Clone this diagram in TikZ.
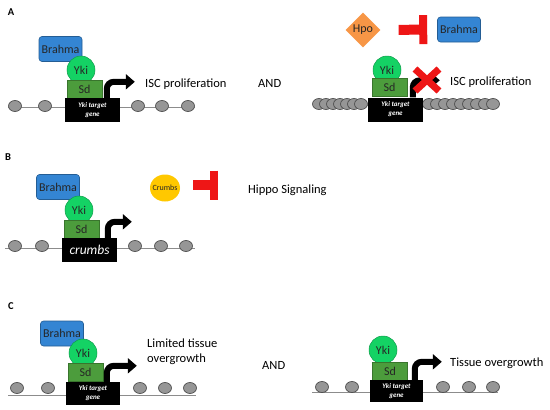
\documentclass[tikz,border=0pt]{standalone}
\usepackage{fontspec}
\setmainfont{Carlito}
\usetikzlibrary{arrows.meta,shapes.geometric}

\definecolor{brahmablue}{RGB}{52,133,211}
\definecolor{ykigreen}{RGB}{20,210,100}
\definecolor{sdgreen}{RGB}{76,156,60}
\definecolor{hpoorange}{RGB}{247,150,70}
\definecolor{blockred}{RGB}{238,22,22}
\definecolor{crumbyellow}{RGB}{255,200,0}
\definecolor{nucgray}{RGB}{150,150,150}

\tikzset{
  lbl/.style={font=\fontsize{12.5}{15}\selectfont, inner sep=0pt, anchor=base west, align=left},
  panel/.style={font=\fontsize{10.5}{12}\selectfont\bfseries, inner sep=0pt},
  dna/.style={draw=black!45, line width=0.8},
  nucleo/.style={ellipse, fill=nucgray, draw=black!70, line width=0.7, minimum width=13, minimum height=11, inner sep=0pt},
  brahma/.style={rectangle, rounded corners=3, fill=brahmablue, draw=brahmablue!70!black, line width=0.6,
    minimum width=43, minimum height=25, inner sep=0pt, font=\fontsize{12}{14}\selectfont, text=black!85},
  yki/.style={circle, fill=ykigreen, draw=ykigreen!75!black, line width=0.5, minimum size=28, inner sep=0pt,
    font=\fontsize{12}{14}\selectfont, text=black!85},
  sd/.style={rectangle, fill=sdgreen, draw=sdgreen!75!black, line width=0.5, minimum width=35, minimum height=18,
    inner sep=0pt, font=\fontsize{12}{14}\selectfont, text=black!85},
  gene/.style={rectangle, fill=black, text=white, minimum width=55, minimum height=24, inner sep=0pt, align=center,
    font=\fontsize{7}{9}\selectfont\bfseries\itshape},
  expr/.style={line width=6, rounded corners=7, -{Triangle[length=9pt,width=15pt]}},
  inhibit/.style={blockred, line width=10, -{Bar[width=29pt,line width=8pt]}}
}

\begin{document}
\begin{tikzpicture}[x=1pt,y=-1pt]
\useasboundingbox (0,0) rectangle (550,410);

% panel A
\node[panel] (labA) at (11,12) {A};
\begin{scope}[shift={(65,98)}]
  \draw[dna] (-57,9) -- (130,9);
  \foreach \x [count=\i] in {-50,-20,73,97,123}
    \node[nucleo] (aNuc\i) at (\x,8) {};
  \node[brahma] (aBrahma) at (-4.5,-49) {Brahma};
  \node[yki] (aYki) at (16,-28) {Yki};
  \node[sd] (aSd) at (19.5,-9) {Sd};
  \node[gene] (aGene) at (27.5,12) {Yki target\\gene};
  \draw[expr] ([xshift=42]aGene.north west) |- ([xshift=70,yshift=16]aGene.north west);
\end{scope}
\node[lbl] (aText) at (145,87) {ISC proliferation};
\node[lbl] (aAnd) at (258,87) {AND};

\node[diamond, fill=hpoorange, minimum width=35, minimum height=35, inner sep=0pt,
  font=\fontsize{12}{14}\selectfont, text=black!85] (hpo) at (363,30) {Hpo};
\node[brahma] (aBrahmaFree) at (459,29.5) {Brahma};
\draw[inhibit, shorten <=18, shorten >=10] (hpo.east) -- (aBrahmaFree.west);

\begin{scope}[shift={(368,97)}]
  \draw[dna] (-55,8) -- (130,8);
  \foreach \x [count=\i] in {-49,-42,-35,-28,-21,-14,-7}
    \node[nucleo] (bLeftNuc\i) at (\x,7) {};
  \foreach \x [count=\i] in {61,69,77,85,93,101,109,117,125}
    \node[nucleo] (bRightNuc\i) at (\x,7) {};
  \node[yki] (aYkiOn) at (19,-27) {Yki};
  \node[sd] (aSdOn) at (21.5,-9.5) {Sd};
  \node[gene] (aGeneOn) at (27.5,12.5) {Yki target\\gene};
  \draw[expr] ([xshift=45]aGeneOn.north west) |- ([xshift=72,yshift=17]aGeneOn.north west);
  \coordinate (aBlock) at (59,-17);
  \draw[blockred, line width=7] (aBlock) +(-12,-11) -- +(12,11);
  \draw[blockred, line width=7] (aBlock) +(-12,11) -- +(12,-11);
\end{scope}
\node[lbl] (aTextOff) at (450,85) {ISC proliferation};

% panel B
\node[panel] (labB) at (8,157) {B};
\begin{scope}[shift={(62,238)}]
  \draw[dna] (-57,10) -- (133,10);
  \foreach \x [count=\i] in {-47,-20,73,99,124}
    \node[nucleo] (cNuc\i) at (\x,8) {};
  \node[brahma] (bBrahma) at (-4,-51) {Brahma};
  \node[yki] (bYki) at (17,-28) {Yki};
  \node[sd] (bSd) at (19.5,-9) {Sd};
  \node[gene, font=\fontsize{13.5}{15}\selectfont\itshape] (bGene) at (27.5,12) {crumbs};
  \draw[expr] ([xshift=46]bGene.north west) |- ([xshift=70,yshift=16]bGene.north west);
\end{scope}
\node[ellipse, fill=crumbyellow, minimum width=30, minimum height=27, inner sep=0pt,
  label={[font=\fontsize{8}{10}\selectfont, text=black!85, inner sep=0pt]center:Crumbs}] (crumbs) at (165,188) {};
\node[lbl] (hippo) at (248,193) {Hippo Signaling};
\coordinate (bInhStart) at ([yshift=3]crumbs.east);
\draw[inhibit, shorten <=13, shorten >=30] (bInhStart) -- (bInhStart -| hippo.west);

% panel C
\node[panel] (labC) at (11,306) {C};
\begin{scope}[shift={(66,382)}]
  \draw[dna] (-58,13) -- (130,13);
  \foreach \x [count=\i] in {-49,-18,74,99,124}
    \node[nucleo] (dNuc\i) at (\x,6) {};
  \node[brahma] (cBrahma) at (-4,-48.5) {Brahma};
  \node[yki] (cYki) at (17,-29) {Yki};
  \node[sd] (cSd) at (19.5,-9.5) {Sd};
  \node[gene, minimum width=54, minimum height=23] (cGene) at (27,11.5) {Yki target\\gene};
  \draw[expr] ([xshift=41]cGene.north west) |- ([xshift=71,yshift=16]cGene.north west);
\end{scope}
\node[lbl] (cText) at (147,362) {Limited tissue\\overgrowth};
\node[lbl] (cAnd) at (262,369) {AND};

\begin{scope}[shift={(370,380)}]
  \draw[dna] (-58,12) -- (128,12);
  \foreach \x [count=\i] in {-48,-18,73,99,123}
    \node[nucleo] (eNuc\i) at (\x,7) {};
  \node[yki] (cYkiOn) at (13,-30) {Yki};
  \node[sd] (cSdOn) at (20,-9) {Sd};
  \node[gene, minimum width=53, minimum height=22] (cGeneOn) at (26.5,11) {Yki target\\gene};
  \draw[expr] ([xshift=45]cGeneOn.north west) |- ([xshift=72,yshift=18]cGeneOn.north west);
\end{scope}
\node[lbl] (cTextOn) at (450,366) {Tissue overgrowth};
\end{tikzpicture}
\end{document}
